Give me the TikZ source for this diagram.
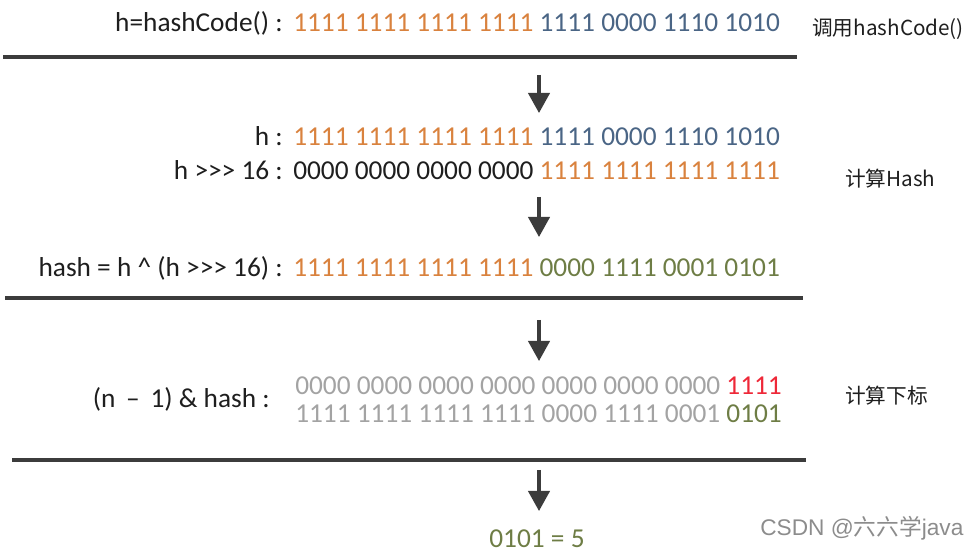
\documentclass[tikz,border=0pt]{standalone}
\usepackage{fontspec}
\usepackage{xcolor}
\usepackage{tikz}
\usetikzlibrary{arrows.meta}
\setmainfont{Carlito}
\newfontfamily\cjk{Noto Sans CJK SC}
\newfontfamily\wmark{Liberation Sans}
\definecolor{bitorange}{HTML}{D9823E}
\definecolor{bitblue}{HTML}{4A6585}
\definecolor{bitolive}{HTML}{6E7D45}
\definecolor{bitgray}{HTML}{A3A3A3}
\definecolor{bitred}{HTML}{EE2838}
\definecolor{ink}{HTML}{1E1E1E}
\definecolor{rulegray}{HTML}{3C3C3C}
\newcommand{\shr}{>{}>{}>}
\tikzset{
  bits/.style={anchor=base west, inner sep=0pt, font=\fontsize{20.5}{24}\selectfont, text=ink},
  lbl/.style={anchor=base east, inner sep=0pt, font=\fontsize{20.5}{24}\selectfont, text=ink},
  side/.style={anchor=base west, inner sep=0pt, font=\cjk\fontsize{15.5}{18}\selectfont, text=ink},
  sep/.style={line width=2.3pt, draw=rulegray},
  down/.style={line width=2.3pt, draw=rulegray, -{Triangle[length=15pt,width=16pt]}}
}
\begin{document}
\begin{tikzpicture}[x=0.75pt,y=-0.75pt]
\useasboundingbox (0,0) rectangle (972,552);
% hashCode
\node[lbl] (l1) at (283,32) {h=hashCode() :};
\node[bits] (b1) at (293,32) {\textcolor{bitorange}{1111 1111 1111 1111} \textcolor{bitblue}{1111 0000 1110 1010}};
\node[side] (s1) at (812,36) {调用hashCode()};
\draw[sep] (3,57) -- (797,57);
\coordinate (a1) at (539,75);
\coordinate (e1) at (539,113);
\draw[down] (a1) -- (e1);
% hash
\node[lbl] (l2) at (283,146) {h :};
\node[bits] (b2) at (293,146) {\textcolor{bitorange}{1111 1111 1111 1111} \textcolor{bitblue}{1111 0000 1110 1010}};
\node[lbl] (l3) at (283,180) {h \shr{} 16 :};
\node[bits] (b3) at (293,180) {0000 0000 0000 0000 \textcolor{bitorange}{1111 1111 1111 1111}};
\node[side] (s2) at (845,187) {计算Hash};
\coordinate (a2) at (539,197);
\coordinate (e2) at (539,237);
\draw[down] (a2) -- (e2);
\node[lbl] (l4) at (283,277) {hash = h \^{} (h \shr{} 16) :};
\node[bits] (b4) at (293,277) {\textcolor{bitorange}{1111 1111 1111 1111} \textcolor{bitolive}{0000 1111 0001 0101}};
\draw[sep] (5,298) -- (803,298);
\coordinate (a3) at (539,320);
\coordinate (e3) at (539,361);
\draw[down] (a3) -- (e3);
% index
\node[lbl] (l5) at (270,408) {(n \,\textendash\, 1) \& hash :};
\node[bits, text=bitgray] (b5) at (295,395) {0000 0000 0000 0000 0000 0000 0000 \textcolor{bitred}{1111}};
\node[bits, text=bitgray] (b6) at (295,423) {1111 1111 1111 1111 0000 1111 0001 \textcolor{bitolive}{0101}};
\node[side] (s3) at (845,404) {计算下标};
\draw[sep] (12,460) -- (806,460);
\coordinate (a4) at (539,470);
\coordinate (e4) at (539,511);
\draw[down] (a4) -- (e4);
\node[bits, anchor=base, text=bitolive] (res) at (537,547) {0101 = 5};
\node[anchor=base west, inner sep=0pt, font=\wmark\fontsize{17}{18}\selectfont, text=black!45] (wm) at (760,536) {CSDN @{\cjk 六六学}java};
\end{tikzpicture}
\end{document}
